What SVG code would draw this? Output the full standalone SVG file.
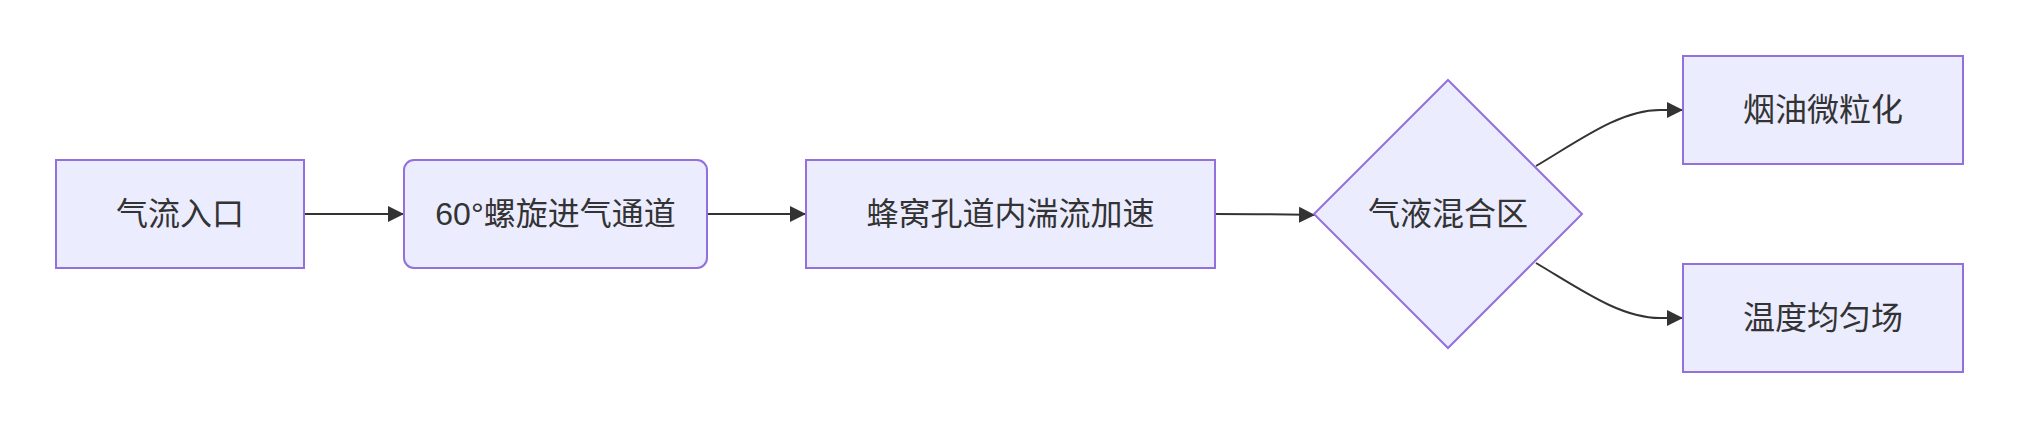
<svg xmlns="http://www.w3.org/2000/svg" width="2018" height="428" viewBox="0 0 2018 428">
<style>
.node{fill:#ECECFF;stroke:#9370DB;stroke-width:2}
.lbl{font-family:"Liberation Sans","Noto Sans CJK SC",sans-serif;font-size:32px;fill:#333333;text-anchor:middle;dominant-baseline:central}
.edge{fill:none;stroke:#333333;stroke-width:2;marker-end:url(#arrow)}
</style>
<defs>
<marker id="arrow" markerUnits="userSpaceOnUse" markerWidth="16" markerHeight="16" refX="16" refY="8" orient="auto">
<path d="M0,0 L16,8 L0,16 z" fill="#333333"/>
</marker>
</defs>
<rect width="2018" height="428" fill="#ffffff"/>
<g id="connectors">
<path class="edge" d="M304,214 L404,214"/>
<path class="edge" d="M707,214 L806,214"/>
<path class="edge" d="M1215,214 C1260,214 1285,214.5 1315,215"/>
<path class="edge" d="M1536,166 C1580,140 1620,110 1660,110 L1683,110"/>
<path class="edge" d="M1536,263 C1580,289 1620,318 1660,318 L1683,318"/>
</g>
<g id="n1">
<rect class="node" x="56" y="160" width="248" height="108"/>
<text class="lbl" x="180" y="214">气流入口</text>
</g>
<g id="n2">
<rect class="node" x="404" y="160" width="303" height="108" rx="10" ry="10"/>
<text class="lbl" x="555.5" y="214">60°螺旋进气通道</text>
</g>
<g id="n3">
<rect class="node" x="806" y="160" width="409" height="108"/>
<text class="lbl" x="1010.5" y="214">蜂窝孔道内湍流加速</text>
</g>
<g id="n4">
<polygon class="node" points="1448,80 1582,214 1448,348 1314,214"/>
<text class="lbl" x="1448" y="214">气液混合区</text>
</g>
<g id="n5">
<rect class="node" x="1683" y="56" width="280" height="108"/>
<text class="lbl" x="1823" y="110">烟油微粒化</text>
</g>
<g id="n6">
<rect class="node" x="1683" y="264" width="280" height="108"/>
<text class="lbl" x="1823" y="318">温度均匀场</text>
</g>
</svg>
